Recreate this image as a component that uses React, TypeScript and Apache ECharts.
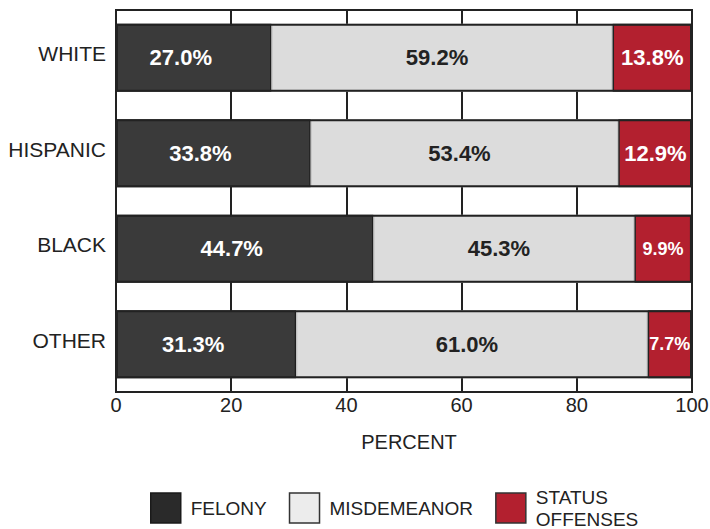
import React, { useEffect, useRef } from "react";
import * as echarts from "echarts";

const categories = ["WHITE", "HISPANIC", "BLACK", "OTHER"];
const felony = [27.0, 33.8, 44.7, 31.3];
const misdemeanor = [59.2, 53.4, 45.3, 61.0];
const statusOffenses = [13.8, 12.9, 9.9, 7.7];
const frameValues = [100, 100, 100, 100];
const xTicks = [0, 20, 40, 60, 80, 100];

const FONT = "'Liberation Sans', Arial, Helvetica, sans-serif";
const INK = "#222";

export default function App() {
  const ref = useRef<HTMLDivElement>(null);

  useEffect(() => {
    if (!ref.current) return;
    const chart = echarts.init(ref.current, null, { renderer: "svg" });
    const fmt = (p: any) => Number(p.value).toFixed(1) + "%";
    const barW = 68;
    chart.setOption({
      animation: false,
      backgroundColor: "#fff",
      textStyle: { fontFamily: FONT },
      grid: {
        left: 116,
        right: 18,
        top: 10,
        bottom: 137,
        outerBoundsMode: "none",
        containLabel: false,
        show: true,
        borderColor: INK,
        borderWidth: 2,
        backgroundColor: "transparent",
      },
      xAxis: {
        type: "value",
        min: xTicks[0],
        max: xTicks[xTicks.length - 1],
        interval: 20,
        axisLine: { show: true, lineStyle: { color: INK, width: 2 } },
        axisTick: { show: false },
        splitLine: { show: true, lineStyle: { color: INK, width: 2 } },
        axisLabel: { fontSize: 20, color: INK, margin: 3, fontFamily: FONT },
        name: "PERCENT",
        nameLocation: "middle",
        nameGap: 40,
        nameTextStyle: { fontSize: 20, color: INK, fontFamily: FONT, padding: [0, 0, 0, 10] },
      },
      yAxis: {
        type: "category",
        inverse: true,
        data: categories,
        axisLine: { show: true, lineStyle: { color: INK, width: 2 } },
        axisTick: { show: false },
        splitLine: { show: false },
        axisLabel: {
          fontSize: 21,
          color: INK,
          margin: 10,
          fontFamily: FONT,
          verticalAlign: "bottom",
          lineHeight: 8,
        },
      },
      legend: {
        left: 150,
        top: 486,
        padding: 0,
        itemWidth: 30,
        itemHeight: 30,
        itemGap: 22,
        icon: "rect",
        textStyle: { fontSize: 19, color: INK, fontFamily: FONT, lineHeight: 22, padding: [0, 0, 0, 5] },
        data: [
          { name: "FELONY", itemStyle: { color: "#2a2a2a", borderColor: "#1a1a1a", borderWidth: 1.5 } },
          { name: "MISDEMEANOR", itemStyle: { color: "#ececec", borderColor: "#333", borderWidth: 1.5 } },
          { name: "STATUS OFFENSES", itemStyle: { color: "#b3202f", borderColor: "#333", borderWidth: 1.5 } },
        ],
        formatter: (n: string) => (n === "STATUS OFFENSES" ? "STATUS\nOFFENSES" : n),
      },
      series: [
        {
          name: "FELONY",
          type: "bar",
          stack: "total",
          barWidth: barW,
          barGap: "-100%",
          data: felony,
          itemStyle: { color: "#3a3a3a", borderColor: "#1e1e1e", borderWidth: 1.5 },
          label: {
            show: true,
            position: "inside",
            offset: [-13, 0],
            formatter: fmt,
            color: "#fff",
            fontSize: 22,
            fontWeight: "bold",
            fontFamily: FONT,
          },
        },
        {
          name: "MISDEMEANOR",
          type: "bar",
          stack: "total",
          barWidth: barW,
          barGap: "-100%",
          data: misdemeanor,
          itemStyle: { color: "#dcdcdc", borderColor: "#bdbdbd", borderWidth: 1 },
          label: {
            show: true,
            position: "inside",
            offset: [-5, 0],
            formatter: fmt,
            color: INK,
            fontSize: 22,
            fontWeight: "bold",
            fontFamily: FONT,
          },
        },
        {
          name: "STATUS OFFENSES",
          type: "bar",
          stack: "total",
          barWidth: barW,
          barGap: "-100%",
          data: statusOffenses,
          itemStyle: { color: "#b3202f", borderColor: INK, borderWidth: 1.5 },
          label: {
            show: true,
            position: "inside",
            formatter: (p: any) => {
              const t = Number(p.value).toFixed(1) + "%";
              return p.value < 11 ? "{s|" + t + "}" : "{b|" + t + "}";
            },
            rich: {
              b: { color: "#fff", fontSize: 22, fontWeight: "bold", fontFamily: FONT },
              s: { color: "#fff", fontSize: 18, fontWeight: "bold", fontFamily: FONT },
            },
          },
        },
        {
          name: "frame",
          type: "bar",
          barWidth: barW,
          barGap: "-100%",
          data: frameValues,
          silent: true,
          z: 5,
          itemStyle: { color: "transparent", borderColor: INK, borderWidth: 2 },
          label: { show: false },
          emphasis: { disabled: true },
        },
      ],
    });
    return () => chart.dispose();
  }, []);

  return <div ref={ref} style={{ position: "absolute", left: 0, top: 0, width: 710, height: 529 }} />;
}
